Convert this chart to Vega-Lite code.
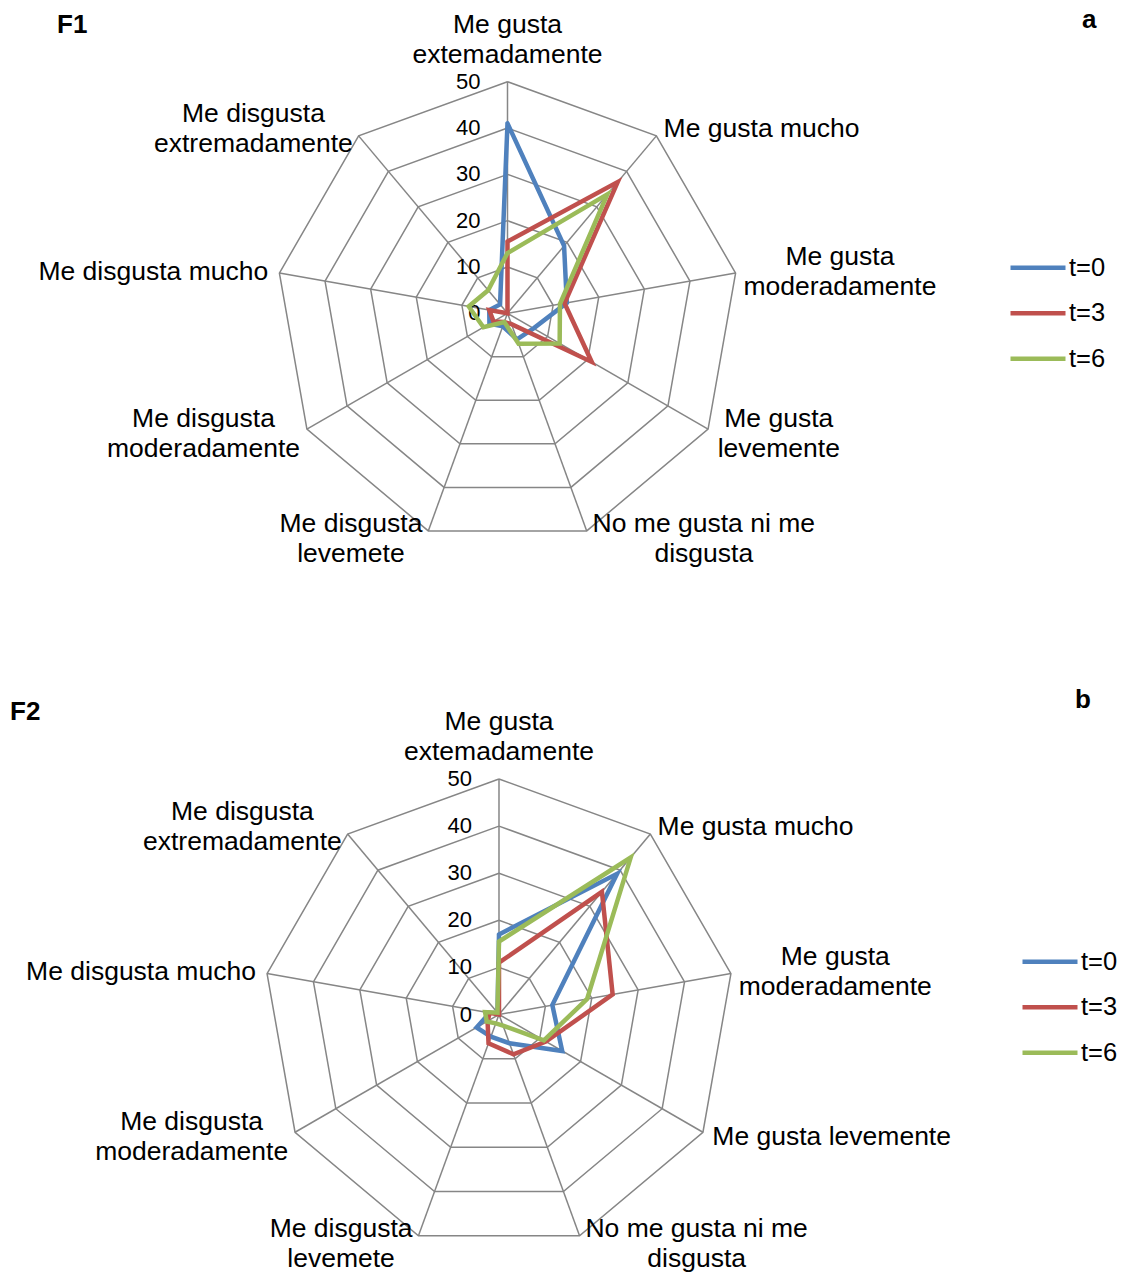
{
  "$schema": "https://vega.github.io/schema/vega-lite/v6.json",
  "autosize": {"type": "pad"},
  "padding": 0,
  "background": "white",
  "config": {"view": {"stroke": null}, "font": "Liberation Sans", "text": {"font": "Liberation Sans", "color": "#000000"}},
  "datasets": {
    "f1": [
      {"series": "t=0", "k": 0, "value": 41}, {"series": "t=0", "k": 1, "value": 19}, {"series": "t=0", "k": 2, "value": 13},
      {"series": "t=0", "k": 3, "value": 6.5}, {"series": "t=0", "k": 4, "value": 6}, {"series": "t=0", "k": 5, "value": 3},
      {"series": "t=0", "k": 6, "value": 4.5}, {"series": "t=0", "k": 7, "value": 4}, {"series": "t=0", "k": 8, "value": 2.5},
      {"series": "t=3", "k": 0, "value": 15.5}, {"series": "t=3", "k": 1, "value": 37}, {"series": "t=3", "k": 2, "value": 12.5},
      {"series": "t=3", "k": 3, "value": 21}, {"series": "t=3", "k": 4, "value": 2.5}, {"series": "t=3", "k": 5, "value": 2},
      {"series": "t=3", "k": 6, "value": 3.5}, {"series": "t=3", "k": 7, "value": 4}, {"series": "t=3", "k": 8, "value": 0},
      {"series": "t=6", "k": 0, "value": 13}, {"series": "t=6", "k": 1, "value": 33.5}, {"series": "t=6", "k": 2, "value": 11.5},
      {"series": "t=6", "k": 3, "value": 13}, {"series": "t=6", "k": 4, "value": 7}, {"series": "t=6", "k": 5, "value": 2},
      {"series": "t=6", "k": 6, "value": 6}, {"series": "t=6", "k": 7, "value": 8.5}, {"series": "t=6", "k": 8, "value": 6.5}
    ],
    "f2": [
      {"series": "t=0", "k": 0, "value": 17}, {"series": "t=0", "k": 1, "value": 39}, {"series": "t=0", "k": 2, "value": 11.5},
      {"series": "t=0", "k": 3, "value": 15.5}, {"series": "t=0", "k": 4, "value": 6.5}, {"series": "t=0", "k": 5, "value": 5},
      {"series": "t=0", "k": 6, "value": 5.5}, {"series": "t=0", "k": 7, "value": 2}, {"series": "t=0", "k": 8, "value": 0.5},
      {"series": "t=3", "k": 0, "value": 11}, {"series": "t=3", "k": 1, "value": 34}, {"series": "t=3", "k": 2, "value": 24.5},
      {"series": "t=3", "k": 3, "value": 11.5}, {"series": "t=3", "k": 4, "value": 9}, {"series": "t=3", "k": 5, "value": 6.5},
      {"series": "t=3", "k": 6, "value": 2.8}, {"series": "t=3", "k": 7, "value": 2}, {"series": "t=3", "k": 8, "value": 0},
      {"series": "t=6", "k": 0, "value": 15.5}, {"series": "t=6", "k": 1, "value": 43.5}, {"series": "t=6", "k": 2, "value": 19},
      {"series": "t=6", "k": 3, "value": 11}, {"series": "t=6", "k": 4, "value": 2.5}, {"series": "t=6", "k": 5, "value": 2},
      {"series": "t=6", "k": 6, "value": 3}, {"series": "t=6", "k": 7, "value": 3}, {"series": "t=6", "k": 8, "value": 0.5}
    ],
    "cats1": [
      {"k": 0, "label": "Me gusta\nextemadamente"},
      {"k": 1, "label": "Me gusta mucho"},
      {"k": 2, "label": "Me gusta\nmoderadamente"},
      {"k": 3, "label": "Me gusta\nlevemente"},
      {"k": 4, "label": "No me gusta ni me\ndisgusta"},
      {"k": 5, "label": "Me disgusta\nlevemete"},
      {"k": 6, "label": "Me disgusta\nmoderadamente"},
      {"k": 7, "label": "Me disgusta mucho"},
      {"k": 8, "label": "Me disgusta\nextremadamente"}
    ],
    "cats2": [
      {"k": 0, "label": "Me gusta\nextemadamente"},
      {"k": 1, "label": "Me gusta mucho"},
      {"k": 2, "label": "Me gusta\nmoderadamente"},
      {"k": 3, "label": "Me gusta levemente"},
      {"k": 4, "label": "No me gusta ni me\ndisgusta"},
      {"k": 5, "label": "Me disgusta\nlevemete"},
      {"k": 6, "label": "Me disgusta\nmoderadamente"},
      {"k": 7, "label": "Me disgusta mucho"},
      {"k": 8, "label": "Me disgusta\nextremadamente"}
    ],
    "rings": [
      {"level": 0, "ks": [0, 1, 2, 3, 4, 5, 6, 7, 8, 9]},
      {"level": 10, "ks": [0, 1, 2, 3, 4, 5, 6, 7, 8, 9]},
      {"level": 20, "ks": [0, 1, 2, 3, 4, 5, 6, 7, 8, 9]},
      {"level": 30, "ks": [0, 1, 2, 3, 4, 5, 6, 7, 8, 9]},
      {"level": 40, "ks": [0, 1, 2, 3, 4, 5, 6, 7, 8, 9]},
      {"level": 50, "ks": [0, 1, 2, 3, 4, 5, 6, 7, 8, 9]}
    ]
  },
  "resolve": {"scale": {"color": "independent", "opacity": "independent"}, "legend": {"color": "independent", "opacity": "independent"}},
  "spacing": 0,
  "bounds": "flush",
  "vconcat": [
    {
      "title": {"text": "F1", "anchor": "start", "frame": "group", "orient": "top", "offset": 0, "baseline": "middle", "dx": 57, "dy": 51, "fontSize": 26, "fontWeight": "bold", "font": "Liberation Sans", "color": "#000000"},
      "width": 1122,
      "height": 636,
      "layer": [
        {
          "data": {"name": "rings"},
          "transform": [
            {"flatten": ["ks"], "as": ["k"]},
            {"filter": "datum.level > 0"},
            {"calculate": "datum.k*2*PI/9", "as": "a"},
            {"calculate": "datum.level*sin(datum.a)", "as": "x"},
            {"calculate": "datum.level*cos(datum.a)", "as": "y"}
          ],
          "mark": {"type": "line", "color": "#868686", "strokeWidth": 1.5, "strokeJoin": "miter"},
          "encoding": {
            "x": {"field": "x", "type": "quantitative", "scale": {"domain": [-109.56, 132.66], "nice": false, "zero": false}, "axis": null},
            "y": {"field": "y", "type": "quantitative", "scale": {"domain": [-69.67, 67.64], "nice": false, "zero": false}, "axis": null},
            "detail": {"field": "level", "type": "nominal"},
            "order": {"field": "k", "type": "quantitative"}
          }
        },
        {
          "data": {"name": "cats1"},
          "transform": [
            {"calculate": "datum.k*2*PI/9", "as": "a"},
            {"calculate": "50*sin(datum.a)", "as": "vx"},
            {"calculate": "50*cos(datum.a)", "as": "vy"}
          ],
          "mark": {"type": "rule", "color": "#868686", "strokeWidth": 1.5},
          "encoding": {
            "x": {"field": "vx", "type": "quantitative"},
            "y": {"field": "vy", "type": "quantitative"},
            "x2": {"datum": 0},
            "y2": {"datum": 0},
            "opacity": {
              "datum": "a", "type": "ordinal",
              "scale": {"domain": ["a"], "range": [1, 1]},
              "legend": {"orient": "none", "legendX": 1056, "legendY": 7, "padding": 0, "title": null,
                "symbolOpacity": 0, "symbolSize": 0, "symbolStrokeWidth": 0, "symbolOffset": 0, "labelOffset": 0,
                "labelFontSize": 26, "labelFontWeight": "bold", "labelFont": "Liberation Sans", "labelColor": "#000000"}
            }
          }
        },
        {
          "data": {"name": "rings"},
          "transform": [
            {"flatten": ["ks"], "as": ["k"]},
            {"filter": "datum.k == 0"},
            {"calculate": "datum.level*sin(0)", "as": "x"},
            {"calculate": "datum.level", "as": "y"}
          ],
          "mark": {"type": "text", "align": "right", "baseline": "middle", "dx": -27, "fontSize": 22, "font": "Liberation Sans", "color": "#000000"},
          "encoding": {
            "x": {"field": "x", "type": "quantitative"},
            "y": {"field": "y", "type": "quantitative"},
            "text": {"field": "level", "type": "quantitative", "format": "d"}
          }
        },
        {
          "data": {"name": "f1"},
          "transform": [
            {"calculate": "datum.k == 0 ? [0, 9] : [datum.k]", "as": "ks"},
            {"flatten": ["ks"], "as": ["ord"]},
            {"calculate": "datum.ord*2*PI/9", "as": "a"},
            {"calculate": "datum.value*sin(datum.a)", "as": "x"},
            {"calculate": "datum.value*cos(datum.a)", "as": "y"}
          ],
          "mark": {"type": "line", "strokeWidth": 4.5, "strokeJoin": "miter", "strokeMiterLimit": 10, "strokeCap": "round"},
          "encoding": {
            "x": {"field": "x", "type": "quantitative"},
            "y": {"field": "y", "type": "quantitative"},
            "order": {"field": "ord", "type": "quantitative"},
            "color": {
              "field": "series", "type": "nominal",
              "scale": {"domain": ["t=0", "t=3", "t=6"], "range": ["#4F81BD", "#C0504D", "#9BBB59"]},
              "legend": {"orient": "none", "legendX": 1007.75, "legendY": 255, "padding": 0, "title": null,
                "symbolType": "M-2.75,0H2.75", "symbolSize": 400, "symbolStrokeWidth": 4.5, "symbolOffset": 17.5,
                "labelOffset": 18.25, "labelFontSize": 25.5, "labelFont": "Liberation Sans", "labelColor": "#000000",
                "rowPadding": 18.5}
            }
          }
        },
        {
          "data": {"name": "cats1"},
          "transform": [
            {"calculate": "datum.k*2*PI/9", "as": "a"},
            {"calculate": "sin(datum.a)", "as": "sn"},
            {"calculate": "cos(datum.a)", "as": "cs"},
            {"calculate": "datum.sn > 0.05 ? 1 : (datum.sn < -0.05 ? -1 : 0)", "as": "sg"},
            {"calculate": "split(datum.label, '\\n')", "as": "lines"},
            {"calculate": "length(datum.lines)", "as": "nl"},
            {"calculate": "datum.lines[0]", "as": "l0"},
            {"calculate": "datum.nl > 1 ? datum.lines[1] : ''", "as": "l1"},
            {"calculate": "26.5*(0.55*length(datum.l0) - 0.28*length(replace(datum.l0, regexp('[^iltr ]','g'), '')) + 0.27*length(replace(datum.l0, regexp('[^mMN]','g'), '')))", "as": "w0"},
            {"calculate": "26.5*(0.55*length(datum.l1) - 0.28*length(replace(datum.l1, regexp('[^iltr ]','g'), '')) + 0.27*length(replace(datum.l1, regexp('[^mMN]','g'), '')))", "as": "w1"},
            {"calculate": "max(datum.w0, datum.w1)", "as": "w"},
            {"calculate": "2 + 8*abs(datum.sn)", "as": "gp"},
            {"calculate": "50*datum.sn + datum.sg*(datum.gp + datum.w/2)/4.632", "as": "lx"},
            {"calculate": "(datum.sg == 0 ? 50*datum.cs + (12 + 15*datum.nl)/4.632 : 50*datum.cs + 9*datum.cs/4.632) + 15*(datum.nl - 1)/4.632", "as": "ly"}
          ],
          "mark": {"type": "text", "align": "center", "baseline": "middle", "lineBreak": "\n", "lineHeight": 30, "fontSize": 26.5, "font": "Liberation Sans", "color": "#000000"},
          "encoding": {
            "x": {"field": "lx", "type": "quantitative"},
            "y": {"field": "ly", "type": "quantitative"},
            "text": {"field": "label", "type": "nominal"}
          }
        }
      ]
    },
    {
      "title": {"text": "F2", "anchor": "start", "frame": "group", "orient": "top", "offset": 0, "baseline": "middle", "dx": 10, "dy": 102, "fontSize": 26, "fontWeight": "bold", "font": "Liberation Sans", "color": "#000000"},
      "width": 1122,
      "height": 636,
      "layer": [
        {
          "data": {"name": "rings"},
          "transform": [
            {"flatten": ["ks"], "as": ["k"]},
            {"filter": "datum.level > 0"},
            {"calculate": "datum.k*2*PI/9", "as": "a"},
            {"calculate": "datum.level*sin(datum.a)", "as": "x"},
            {"calculate": "datum.level*cos(datum.a)", "as": "y"}
          ],
          "mark": {"type": "line", "color": "#868686", "strokeWidth": 1.5, "strokeJoin": "miter"},
          "encoding": {
            "x": {"field": "x", "type": "quantitative", "scale": {"domain": [-105.94, 132.27], "nice": false, "zero": false}, "axis": null},
            "y": {"field": "y", "type": "quantitative", "scale": {"domain": [-54.67, 80.36], "nice": false, "zero": false}, "axis": null},
            "detail": {"field": "level", "type": "nominal"},
            "order": {"field": "k", "type": "quantitative"}
          }
        },
        {
          "data": {"name": "cats2"},
          "transform": [
            {"calculate": "datum.k*2*PI/9", "as": "a"},
            {"calculate": "50*sin(datum.a)", "as": "vx"},
            {"calculate": "50*cos(datum.a)", "as": "vy"}
          ],
          "mark": {"type": "rule", "color": "#868686", "strokeWidth": 1.5},
          "encoding": {
            "x": {"field": "vx", "type": "quantitative"},
            "y": {"field": "vy", "type": "quantitative"},
            "x2": {"datum": 0},
            "y2": {"datum": 0},
            "opacity": {
              "datum": "b", "type": "ordinal",
              "scale": {"domain": ["b"], "range": [1, 1]},
              "legend": {"orient": "none", "legendX": 1049, "legendY": 51, "padding": 0, "title": null,
                "symbolOpacity": 0, "symbolSize": 0, "symbolStrokeWidth": 0, "symbolOffset": 0, "labelOffset": 0,
                "labelFontSize": 26, "labelFontWeight": "bold", "labelFont": "Liberation Sans", "labelColor": "#000000"}
            }
          }
        },
        {
          "data": {"name": "rings"},
          "transform": [
            {"flatten": ["ks"], "as": ["k"]},
            {"filter": "datum.k == 0"},
            {"calculate": "datum.level*sin(0)", "as": "x"},
            {"calculate": "datum.level", "as": "y"}
          ],
          "mark": {"type": "text", "align": "right", "baseline": "middle", "dx": -27, "fontSize": 22, "font": "Liberation Sans", "color": "#000000"},
          "encoding": {
            "x": {"field": "x", "type": "quantitative"},
            "y": {"field": "y", "type": "quantitative"},
            "text": {"field": "level", "type": "quantitative", "format": "d"}
          }
        },
        {
          "data": {"name": "f2"},
          "transform": [
            {"calculate": "datum.k == 0 ? [0, 9] : [datum.k]", "as": "ks"},
            {"flatten": ["ks"], "as": ["ord"]},
            {"calculate": "datum.ord*2*PI/9", "as": "a"},
            {"calculate": "datum.value*sin(datum.a)", "as": "x"},
            {"calculate": "datum.value*cos(datum.a)", "as": "y"}
          ],
          "mark": {"type": "line", "strokeWidth": 4.5, "strokeJoin": "miter", "strokeMiterLimit": 10, "strokeCap": "round"},
          "encoding": {
            "x": {"field": "x", "type": "quantitative"},
            "y": {"field": "y", "type": "quantitative"},
            "order": {"field": "ord", "type": "quantitative"},
            "color": {
              "field": "series", "type": "nominal",
              "scale": {"domain": ["t=0", "t=3", "t=6"], "range": ["#4F81BD", "#C0504D", "#9BBB59"]},
              "legend": {"orient": "none", "legendX": 1019.75, "legendY": 313, "padding": 0, "title": null,
                "symbolType": "M-2.75,0H2.75", "symbolSize": 400, "symbolStrokeWidth": 4.5, "symbolOffset": 17.5,
                "labelOffset": 18.25, "labelFontSize": 25.5, "labelFont": "Liberation Sans", "labelColor": "#000000",
                "rowPadding": 18.5}
            }
          }
        },
        {
          "data": {"name": "cats2"},
          "transform": [
            {"calculate": "datum.k*2*PI/9", "as": "a"},
            {"calculate": "sin(datum.a)", "as": "sn"},
            {"calculate": "cos(datum.a)", "as": "cs"},
            {"calculate": "datum.sn > 0.05 ? 1 : (datum.sn < -0.05 ? -1 : 0)", "as": "sg"},
            {"calculate": "split(datum.label, '\\n')", "as": "lines"},
            {"calculate": "length(datum.lines)", "as": "nl"},
            {"calculate": "datum.lines[0]", "as": "l0"},
            {"calculate": "datum.nl > 1 ? datum.lines[1] : ''", "as": "l1"},
            {"calculate": "26.5*(0.55*length(datum.l0) - 0.28*length(replace(datum.l0, regexp('[^iltr ]','g'), '')) + 0.27*length(replace(datum.l0, regexp('[^mMN]','g'), '')))", "as": "w0"},
            {"calculate": "26.5*(0.55*length(datum.l1) - 0.28*length(replace(datum.l1, regexp('[^iltr ]','g'), '')) + 0.27*length(replace(datum.l1, regexp('[^mMN]','g'), '')))", "as": "w1"},
            {"calculate": "max(datum.w0, datum.w1)", "as": "w"},
            {"calculate": "2 + 8*abs(datum.sn)", "as": "gp"},
            {"calculate": "50*datum.sn + datum.sg*(datum.gp + datum.w/2)/4.71", "as": "lx"},
            {"calculate": "(datum.sg == 0 ? 50*datum.cs + (12 + 15*datum.nl)/4.71 : 50*datum.cs + 9*datum.cs/4.71) + 15*(datum.nl - 1)/4.71", "as": "ly"}
          ],
          "mark": {"type": "text", "align": "center", "baseline": "middle", "lineBreak": "\n", "lineHeight": 30, "fontSize": 26.5, "font": "Liberation Sans", "color": "#000000"},
          "encoding": {
            "x": {"field": "lx", "type": "quantitative"},
            "y": {"field": "ly", "type": "quantitative"},
            "text": {"field": "label", "type": "nominal"}
          }
        }
      ]
    }
  ]
}
